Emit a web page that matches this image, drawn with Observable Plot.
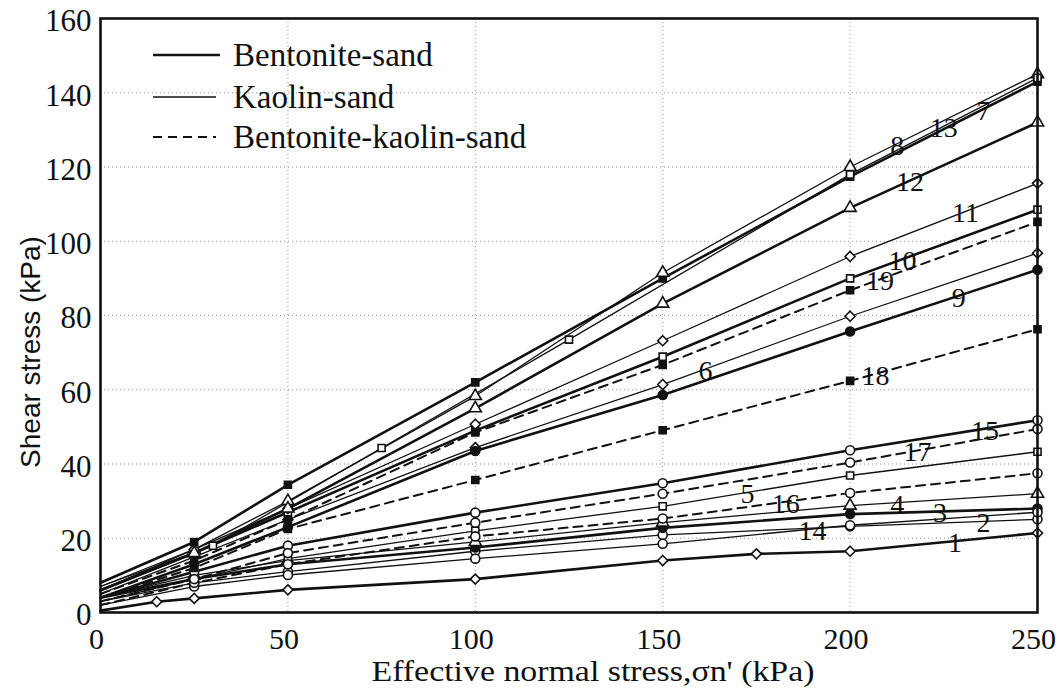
<!DOCTYPE html>
<html>
<head>
<meta charset="utf-8">
<script src="https://cdn.jsdelivr.net/npm/d3@7"></script>
<script src="https://cdn.jsdelivr.net/npm/@observablehq/plot@0.6"></script>
<style>
  html, body { margin: 0; padding: 0; background: #fff; }
  #chart { width: 1058px; height: 694px; }
</style>
</head>
<body>
<div id="chart"></div>
<script>
// Failure envelopes of the sand mixtures, numbered 1–19
const seriesId = [1, 2, 3, 4, 5, 6, 7, 8, 9, 10, 11, 12, 13, 14, 15, 16, 17, 18, 19];

const mixture = [
  "Bentonite-sand", "Kaolin-sand", "Bentonite-sand", "Kaolin-sand", "Kaolin-sand",
  "Kaolin-sand", "Bentonite-sand", "Kaolin-sand", "Bentonite-sand", "Bentonite-sand",
  "Kaolin-sand", "Bentonite-sand", "Kaolin-sand", "Kaolin-sand", "Bentonite-sand",
  "Bentonite-kaolin-sand", "Bentonite-kaolin-sand", "Bentonite-kaolin-sand", "Bentonite-kaolin-sand"
];

const marker = [
  "diamond2", "circle", "circle", "triangle", "square2",
  "diamond2", "square2", "triangle", "circle", "square2",
  "diamond2", "triangle", "square2", "circle", "circle",
  "circle", "circle", "square2", "square2"
];
const markerFilled = [
  false, false, true, false, false,
  false, true, false, true, false,
  false, false, false, false, false,
  false, false, true, true
];

// Effective normal stress (kPa) of each test, per series
const normalStress = [
  [0, 15, 25, 50, 100, 150, 175, 200, 250],
  [0, 25, 50, 100, 150, 200, 250],
  [0, 25, 50, 100, 150, 200, 250],
  [0, 25, 50, 100, 150, 200, 250],
  [0, 25, 50, 100, 150, 200, 250],
  [0, 25, 50, 100, 150, 200, 250],
  [0, 25, 50, 100, 150, 200, 250],
  [0, 25, 50, 100, 150, 200, 250],
  [0, 25, 50, 100, 150, 200, 250],
  [0, 25, 50, 100, 150, 200, 250],
  [0, 25, 50, 100, 150, 200, 250],
  [0, 25, 50, 100, 150, 200, 250],
  [0, 30, 75, 125, 200, 250],
  [0, 25, 50, 100, 150, 200, 250],
  [0, 25, 50, 100, 150, 200, 250],
  [0, 25, 50, 100, 150, 200, 250],
  [0, 25, 50, 100, 150, 200, 250],
  [0, 25, 50, 100, 150, 200, 250],
  [0, 25, 50, 100, 150, 200, 250]
];

// Shear stress at failure (kPa), per series
const shearStress = [
  [0.5, 2.9, 3.8, 6.1, 9.0, 14.0, 15.8, 16.5, 21.4],
  [3, 8, 11, 16.5, 20.9, 23.2, 25.1],
  [4, 9, 13, 17.5, 22.8, 26.5, 28],
  [4, 10, 14, 19, 24.2, 28.8, 32],
  [3, 9, 14.5, 22, 28.6, 36.9, 43.3],
  [5, 15, 25, 44.4, 61.4, 79.8, 96.8],
  [8, 19, 34.4, 62, 90, 117.4, 143],
  [7, 17, 30, 58.3, 91.5, 120, 145],
  [4, 13, 23, 43.5, 58.6, 75.7, 92.3],
  [6, 16, 27, 49, 68.9, 90, 108.5],
  [6, 17, 28, 50.7, 73.2, 95.9, 115.6],
  [6, 16, 28, 55, 83.2, 109, 132],
  [7, 18, 44.3, 73.5, 118, 144],
  [2, 7, 10.1, 14.5, 18.5, 23.5, 27],
  [4, 11, 18, 26.9, 34.8, 43.7, 51.8],
  [2, 8, 13, 20.5, 25.3, 32.2, 37.5],
  [3, 9, 16, 24.2, 32, 40.4, 49.4],
  [4, 12, 22.5, 35.7, 49.1, 62.4, 76.3],
  [5, 14, 25, 48.5, 66.7, 86.8, 105.2]
];

// Normal stress at which each series number is written along its line
const labelStress = [228, 235.6, 224, 212.6, 172.6, 161.4, 235.6, 212.6, 229, 214,
                     230.8, 216, 225, 190, 236, 182.8, 218, 206.8, 208];

const xTicks = [0, 50, 100, 150, 200, 250];
const yTicks = [0, 20, 40, 60, 80, 100, 120, 140, 160];
const legendNames = ["Bentonite-sand", "Kaolin-sand", "Bentonite-kaolin-sand"];

// Tidy rows built from the arrays above
const rows = seriesId.flatMap((id, i) =>
  normalStress[i].map((s, j) => ({
    id, mixture: mixture[i], sigma: s, tau: shearStress[i][j],
    symbol: marker[i], filled: markerFilled[i]
  }))
);
const tested = rows.filter(d => d.sigma > 0);
const labels = seriesId.map((id, i) => ({
  id,
  sigma: labelStress[i],
  tau: d3.scaleLinear().domain(normalStress[i]).range(shearStress[i])(labelStress[i])
}));

const lineStyle = {
  "Bentonite-sand": {strokeWidth: 2.6},
  "Kaolin-sand": {strokeWidth: 1.3},
  "Bentonite-kaolin-sand": {strokeWidth: 2, strokeDasharray: "9,6"}
};

const serif = "Liberation Serif, Tinos, Times New Roman, Times, DejaVu Serif, serif";
const sans = "Liberation Sans, Arimo, Arial, sans-serif";
const W = 1058, H = 694;
const M = {top: 18, right: 21, bottom: 82, left: 100};

const chart = Plot.plot({
  width: W,
  height: H,
  marginTop: M.top,
  marginRight: M.right,
  marginBottom: M.bottom,
  marginLeft: M.left,
  style: {fontFamily: serif, fontSize: "28px", color: "#111", background: "#fff"},
  x: {domain: [0, 250], axis: null},
  y: {domain: [0, 160], axis: null},
  marks: [
    Plot.gridX(xTicks.slice(1, -1), {stroke: "#777", strokeOpacity: 0.8, strokeDasharray: "1,3"}),
    Plot.gridY(yTicks.slice(1, -1), {stroke: "#777", strokeOpacity: 0.8, strokeDasharray: "1,3"}),
    ...legendNames.map(m =>
      Plot.line(rows.filter(d => d.mixture === m), {
        x: "sigma", y: "tau", z: "id", stroke: "#111", ...lineStyle[m]
      })
    ),
    Plot.dot(tested, {
      x: "sigma", y: "tau", symbol: "symbol", r: 4.5,
      stroke: "#111", strokeWidth: 1.6,
      fill: d => d.filled ? "#111" : "#fff"
    }),
    Plot.text(labels, {
      x: "sigma", y: "tau", text: d => String(d.id),
      fontSize: 28, fontFamily: serif, fill: "#111", dy: 2
    }),
    Plot.frame({stroke: "#111", strokeWidth: 2.6}),
    // tick labels
    Plot.text(xTicks, {
      x: d => d, frameAnchor: "bottom", dy: 36, dx: -4,
      text: d => String(d), fontSize: 30, fontFamily: serif, fill: "#111"
    }),
    Plot.text(yTicks, {
      y: d => d, frameAnchor: "left", textAnchor: "end", dx: -9, dy: 3,
      text: d => String(d), fontSize: 31, fontFamily: serif, fill: "#111"
    })
  ]
});

const svg = d3.select(chart);

// Axis titles
svg.append("text")
  .attr("x", 593).attr("y", 681)
  .attr("text-anchor", "middle")
  .attr("font-family", serif)
  .attr("font-size", 30)
  .attr("textLength", 443)
  .attr("lengthAdjust", "spacingAndGlyphs")
  .attr("fill", "#111")
  .text("Effective normal stress,\u03c3n' (kPa)");

svg.append("text")
  .attr("transform", "translate(30,352) rotate(-90)")
  .attr("text-anchor", "middle")
  .attr("dominant-baseline", "central")
  .attr("font-family", sans)
  .attr("font-size", 28)
  .attr("fill", "#111")
  .text("Shear stress (kPa)");

// Legend inside the upper-left corner of the frame
const legend = svg.append("g").attr("transform", `translate(${M.left + 53},0)`);
const legendRows = [55, 97, 137];
legendNames.forEach((m, i) => {
  const s = lineStyle[m];
  legend.append("line")
    .attr("x1", 0).attr("x2", i === 0 ? 67 : 63)
    .attr("y1", legendRows[i]).attr("y2", legendRows[i])
    .attr("stroke", "#111")
    .attr("stroke-width", s.strokeWidth)
    .attr("stroke-dasharray", s.strokeDasharray || null);
  legend.append("text")
    .attr("x", 80).attr("y", legendRows[i] + 11)
    .attr("text-anchor", "start")
    .attr("font-family", serif).attr("font-size", 33).attr("fill", "#111")
    .text(m);
});

document.getElementById("chart").append(chart);
</script>
</body>
</html>
